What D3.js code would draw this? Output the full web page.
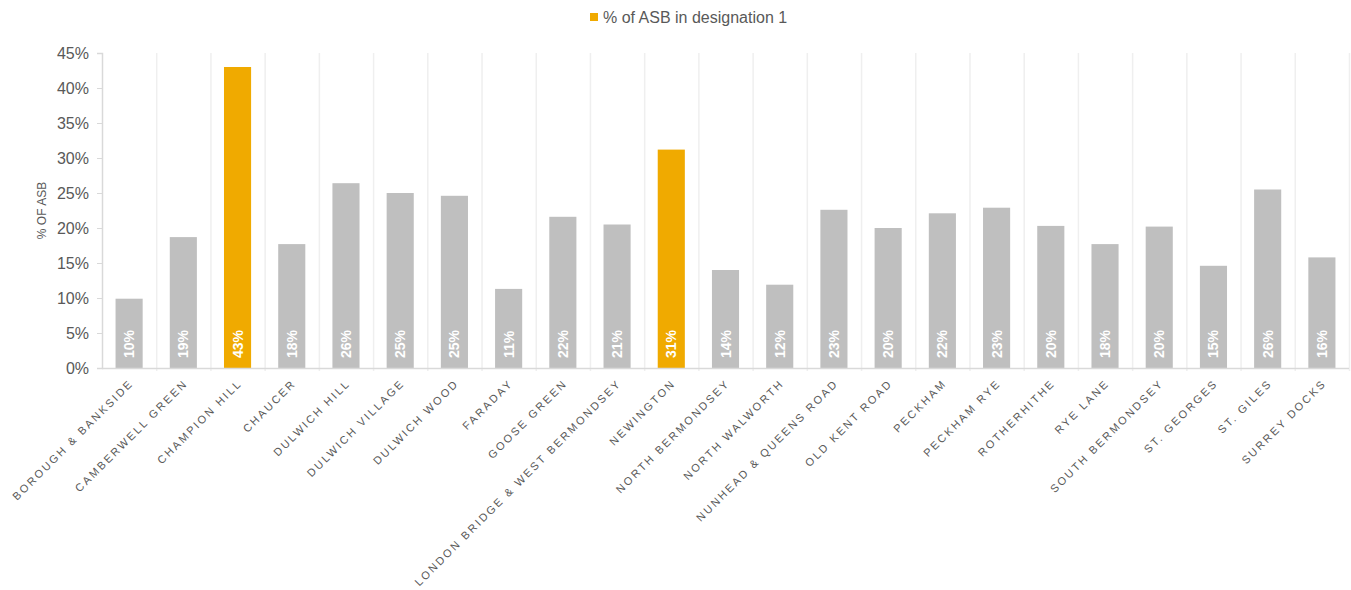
<!DOCTYPE html>
<html>
<head>
<meta charset="utf-8">
<script src="https://cdn.jsdelivr.net/npm/d3@7"></script>
<style>
  html, body { margin: 0; padding: 0; background: #fff; }
  svg { display: block; font-family: "Liberation Sans", Arial, sans-serif; }
</style>
</head>
<body>
<svg id="chart" width="1351" height="590"></svg>
<script>
const categories = [
  "BOROUGH & BANKSIDE", "CAMBERWELL GREEN", "CHAMPION HILL", "CHAUCER",
  "DULWICH HILL", "DULWICH VILLAGE", "DULWICH WOOD", "FARADAY", "GOOSE GREEN",
  "LONDON BRIDGE & WEST BERMONDSEY", "NEWINGTON", "NORTH BERMONDSEY",
  "NORTH WALWORTH", "NUNHEAD & QUEENS ROAD", "OLD KENT ROAD", "PECKHAM",
  "PECKHAM RYE", "ROTHERHITHE", "RYE LANE", "SOUTH BERMONDSEY", "ST. GEORGES",
  "ST. GILES", "SURREY DOCKS"
];
const values = [9.9, 18.7, 43.0, 17.7, 26.4, 25.0, 24.6, 11.3, 21.6, 20.5, 31.2, 14.0,
  11.9, 22.6, 20.0, 22.1, 22.9, 20.3, 17.7, 20.2, 14.6, 25.5, 15.8];
const designation1 = [false, false, true, false, false, false, false, false, false, false, true, false,
  false, false, false, false, false, false, false, false, false, false, false];
const yTicks = [0, 5, 10, 15, 20, 25, 30, 35, 40, 45];
const legendLabel = "% of ASB in designation 1";
const yAxisTitle = "% OF ASB";

(function () {
const svg = d3.select("#chart");
const mLeft = 102, mRight = 1349, mTop = 53, mBottom = 368;
const textColor = "#595959";
const gray = "#bfbfbf", orange = "#f0aa00";

const x = d3.scaleBand().domain(categories).range([mLeft, mRight]).padding(0);
const y = d3.scaleLinear().domain([0, 45]).range([mBottom, mTop]);

// vertical gridlines at category boundaries
svg.append("g").selectAll("line").data(categories)
  .join("line")
  .attr("x1", d => x(d) + x.step() + 0.5)
  .attr("x2", d => x(d) + x.step() + 0.5)
  .attr("y1", mTop).attr("y2", mBottom + 3)
  .attr("stroke", "#efefef").attr("stroke-width", 1.5);

// y axis
const yAxis = d3.axisLeft(y).tickValues(yTicks).tickFormat(d => d + "%").tickSize(5).tickPadding(8);
const yg = svg.append("g").attr("transform", `translate(${mLeft},0)`).call(yAxis);
yg.select(".domain").attr("stroke", "#d9d9d9").attr("stroke-width", 1.5);
yg.selectAll(".tick line").attr("stroke", "#d9d9d9");
yg.selectAll(".tick text").attr("fill", textColor).style("font-size", "16px")
  .style("font-family", "'Liberation Sans', Arial, sans-serif");

// bars
const bw = x.bandwidth() * 0.5;
svg.append("g").selectAll("rect").data(categories).join("rect")
  .attr("x", d => x(d) + (x.bandwidth() - bw) / 2)
  .attr("width", bw)
  .attr("y", (d, i) => y(values[i]))
  .attr("height", (d, i) => y(0) - y(values[i]))
  .attr("fill", (d, i) => designation1[i] ? orange : gray);

// x axis line
svg.append("line").attr("x1", mLeft).attr("x2", mRight).attr("y1", mBottom + 0.5).attr("y2", mBottom + 0.5)
  .attr("stroke", "#d9d9d9").attr("stroke-width", 1.5);

// value labels inside base
svg.append("g").selectAll("text").data(categories).join("text")
  .attr("transform", d => `translate(${x(d) + x.bandwidth() / 2 + 5},${mBottom - 10}) rotate(-90)`)
  .attr("text-anchor", "start")
  .attr("fill", "#fff").style("font-size", "14px").style("font-weight", "bold")
  .text((d, i) => Math.round(values[i]) + "%");

// category labels
svg.append("g").selectAll("text").data(categories).join("text")
  .attr("transform", d => `translate(${x(d) + x.bandwidth() / 2 + 5},${mBottom + 16}) rotate(-45)`)
  .attr("text-anchor", "end")
  .attr("fill", textColor).style("font-size", "11px").style("letter-spacing", "2.2px")
  .text(d => d);

// y axis title
svg.append("text")
  .attr("transform", `translate(46,${(mTop + mBottom) / 2}) rotate(-90)`)
  .attr("text-anchor", "middle")
  .attr("fill", textColor).style("font-size", "12px")
  .text(yAxisTitle);

// legend
const lg = svg.append("g").attr("transform", "translate(590,13)");
lg.append("rect").attr("width", 8).attr("height", 8).attr("fill", orange);
lg.append("text").attr("x", 13).attr("y", 4).attr("dy", "0.35em")
  .attr("fill", textColor).style("font-size", "16px").text(legendLabel);
})();
</script>
</body>
</html>
